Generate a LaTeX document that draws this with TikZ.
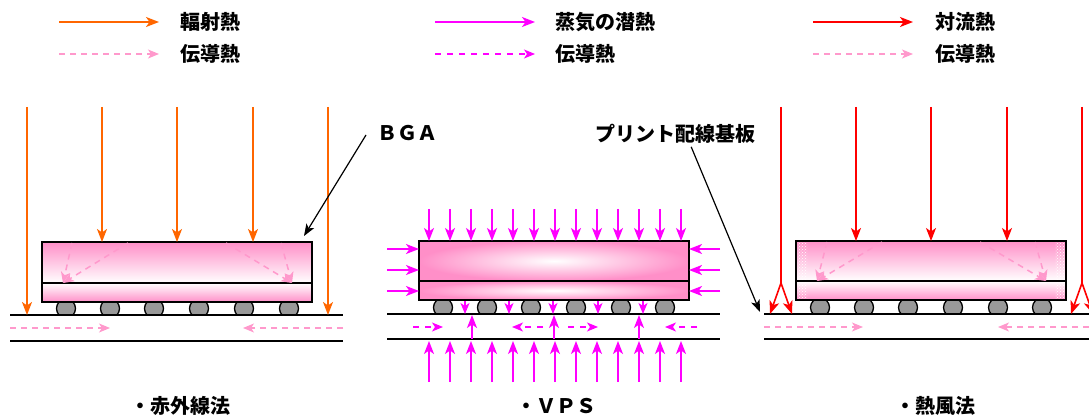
\documentclass[tikz,border=0pt]{standalone}
\usepackage{fontspec}
\setmainfont{Noto Sans CJK JP}
\usetikzlibrary{arrows.meta,patterns,calc}

\definecolor{radorange}{HTML}{FF6600}
\definecolor{vapor}{HTML}{FF00FF}
\definecolor{convred}{HTML}{FF0000}
\definecolor{condpink}{HTML}{FF99CC}
\definecolor{pkgpink}{HTML}{FF8FC8}
\definecolor{ballgray}{HTML}{999999}

\tikzset{
  lbl/.style={font=\fontsize{20}{24}\selectfont\bfseries, inner sep=0pt, anchor=west},
  bigtip/.style={-{Stealth[length=13pt,width=10pt,inset=3.5pt]}},
  smalltip/.style={-{Stealth[length=11pt,width=9pt,inset=3pt]}},
  rad/.style={bigtip, draw=radorange, line width=1.6pt},
  vps/.style={bigtip, draw=vapor, line width=1.6pt},
  conv/.style={bigtip, draw=convred, line width=1.6pt},
  cond/.style={smalltip, draw=condpink, line width=1.5pt, dash pattern=on 6pt off 5pt},
  vcond/.style={smalltip, draw=vapor, line width=1.5pt, dash pattern=on 6pt off 6pt},
  lead/.style={-{Stealth[length=12pt,width=9pt,inset=3pt]}, line width=1.2pt},
  edge/.style={line width=1.6pt},
  ball/.style={fill=ballgray, draw=black, line width=1.3pt},
}

\begin{document}
\begin{tikzpicture}[x=1pt,y=-1pt]
\useasboundingbox (0,0) rectangle (1089,419);

% legend
\draw[rad] (59,22) -- (159,22);
\node[lbl] (leg1a) at (180,22) {輻射熱};
\draw[cond] (59,54) -- (159,54);
\node[lbl] (leg1b) at (180,54) {伝導熱};
\draw[vps] (435,22) -- (535,22);
\node[lbl] (leg2a) at (555,22) {蒸気の潜熱};
\draw[vcond] (435,54) -- (535,54);
\node[lbl] (leg2b) at (555,54) {伝導熱};
\draw[conv] (813,22) -- (913,22);
\node[lbl] (leg3a) at (935,22) {対流熱};
\draw[cond] (813,54) -- (913,54);
\node[lbl] (leg3b) at (935,54) {伝導熱};

%---- infrared
\begin{scope}
  \clip (0,302) rectangle (360,315);
  \foreach \x in {66,110,154,199,244,289}
    \filldraw[ball] (\x,308.5) circle (9.5);
\end{scope}
\shade[top color=pkgpink, bottom color=white] (42,242) rectangle (312,283);
\shade[top color=white, bottom color=pkgpink] (42,283) rectangle (312,302);
\draw[edge] (42,242) rectangle (312,302);
\draw[edge] (42,283) -- (312,283);
\draw[edge] (10,315) -- (343,315);
\draw[edge] (10,341) -- (343,341);
\foreach \x in {27,328} \draw[rad] (\x,107) -- (\x,315);
\foreach \x in {102,177,253} \draw[rad] (\x,107) -- (\x,242);
\foreach \x in {72,128} \draw[cond] (\x,243) -- (63,283);
\foreach \x in {226,281} \draw[cond] (\x,243) -- (292,283);
\draw[cond] (10,328) -- (110,328);
\draw[cond] (343,328) -- (243,328);

%---- vps
\begin{scope}
  \clip (380,300) rectangle (720,314);
  \foreach \x in {443,487,531,576,621,665}
    \filldraw[ball] (\x,307.5) circle (9.5);
\end{scope}
\shade[inner color=white, outer color=pkgpink] (419,241) rectangle (689,281);
\shade[inner color=white, outer color=pkgpink] (419,281) rectangle (689,300);
\draw[edge] (419,241) rectangle (689,300);
\draw[edge] (419,281) -- (689,281);
\draw[edge] (387,314) -- (720,314);
\draw[edge] (387,339) -- (720,339);
\foreach \i in {0,...,12} {
  \draw[vps] ({429+21*\i},209) -- ({429+21*\i},241);
  \draw[vps] ({429+21*\i},382) -- ({429+21*\i},341);
}
\foreach \y in {249,270,291} {
  \draw[vps] (387,\y) -- (419,\y);
  \draw[vps] (720,\y) -- (689,\y);
}
\foreach \x in {465,509,553,598,643}
  \draw[smalltip, draw=vapor, line width=1.5pt] (\x,301) -- (\x,314);
\foreach \x in {472,554,639} \draw[vps] (\x,339) -- (\x,315);
\draw[vcond] (413,327) -- (443,327);
\draw[vcond] (543,327) -- (512,327);
\draw[vcond] (568,327) -- (598,327);
\draw[vcond] (697,327) -- (665,327);

%---- hot air
\begin{scope}
  \clip (760,300) rectangle (1089,314);
  \foreach \x in {820,864,908,953,998,1042}
    \filldraw[ball] (\x,307.5) circle (9.5);
\end{scope}
\shade[top color=pkgpink, bottom color=white] (796,241) rectangle (1066,281);
\shade[top color=white, bottom color=pkgpink] (796,281) rectangle (1066,300);
\fill[pattern=crosshatch dots, pattern color=white] (797,242) rectangle (807,299);
\fill[pattern=crosshatch dots, pattern color=white] (1055,242) rectangle (1065,299);
\draw[edge] (796,241) rectangle (1066,300);
\draw[edge] (796,281) -- (1066,281);
\draw[edge] (764,314) -- (1089,314);
\draw[edge] (764,339) -- (1089,339);
\foreach \x in {781,1082} {
  \draw[convred, line width=1.6pt] (\x,107) -- (\x,283);
  \draw[conv] (\x,283) -- ++(-11,31);
  \draw[conv] (\x,283) -- ++(11,31);
}
\foreach \x in {856,931,1007} \draw[conv] (\x,107) -- (\x,241);
\foreach \x in {827,882} \draw[cond] (\x,242) -- (817,281);
\foreach \x in {980,1035} \draw[cond] (\x,242) -- (1046,281);
\draw[cond] (764,327) -- (863,327);
\draw[cond] (1089,327) -- (998,327);

% callouts
\node[lbl] (bga) at (377,133) {ＢＧＡ};
\coordinate (bgatip) at (304,236);
\draw[lead] ([xshift=-11pt,yshift=-2pt]bga.west) -- (bgatip);
\node[lbl] (pcb) at (595,134) {プリント配線基板};
\coordinate (pcbtip) at (760,312);
\draw[lead] ([xshift=16pt,yshift=-3pt]pcb.south) -- (pcbtip);

% titles
\node[lbl] (t1) at (130,406) {・赤外線法};
\node[lbl] (t2) at (516,406) {・ＶＰＳ};
\node[lbl] (t3) at (895,406) {・熱風法};
\end{tikzpicture}
\end{document}
